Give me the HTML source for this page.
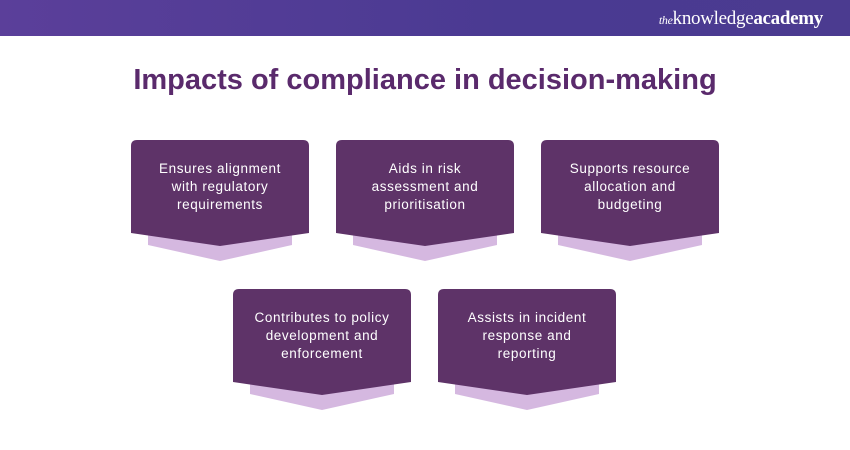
<!DOCTYPE html>
<html><head><style>
body{margin:0;width:850px;height:450px;background:#fff;position:relative;overflow:hidden;font-family:"Liberation Sans",sans-serif}
.hdr{position:absolute;left:0;top:0;width:850px;height:36px;background:linear-gradient(90deg,#5b3f9a,#4a3a92 60%,#4b3b90)}
.logo{position:absolute;right:27px;top:8px;color:#fff;font-family:"Liberation Serif",serif;font-size:19px;letter-spacing:-0.3px}
.logo i{font-size:12px}
h1{position:absolute;left:0;width:850px;top:64px;margin:0;text-align:center;color:#5a2a6c;font-size:29px;font-weight:bold}
.t{position:absolute;width:178px;text-align:center;color:#fff;font-size:13.5px;line-height:18px;letter-spacing:0.6px}
</style></head><body>
<div class="hdr"></div>
<div class="logo"><i>the</i>knowledge<b>academy</b></div>
<h1>Impacts of compliance in decision-making</h1>
<svg width="850" height="450" style="position:absolute;left:0;top:0">
<defs>
<g id="c">
<path d="M17,80 L161,80 L161,105 L89,121 L17,105 Z" fill="#d5b8e0"/>
<path d="M6,0 H172 Q178,0 178,6 V93 L89,106 L0,93 V6 Q0,0 6,0 Z" fill="#5e3368"/>
</g>
</defs>
<use href="#c" x="131" y="140"/>
<use href="#c" x="336" y="140"/>
<use href="#c" x="541" y="140"/>
<use href="#c" x="233" y="289"/>
<use href="#c" x="438" y="289"/>
</svg>
<div class="t" style="left:131px;top:160px">Ensures alignment<br>with regulatory<br>requirements</div>
<div class="t" style="left:336px;top:160px">Aids in risk<br>assessment and<br>prioritisation</div>
<div class="t" style="left:541px;top:160px">Supports resource<br>allocation and<br>budgeting</div>
<div class="t" style="left:233px;top:309px">Contributes to policy<br>development and<br>enforcement</div>
<div class="t" style="left:438px;top:309px">Assists in incident<br>response and<br>reporting</div>
</body></html>
